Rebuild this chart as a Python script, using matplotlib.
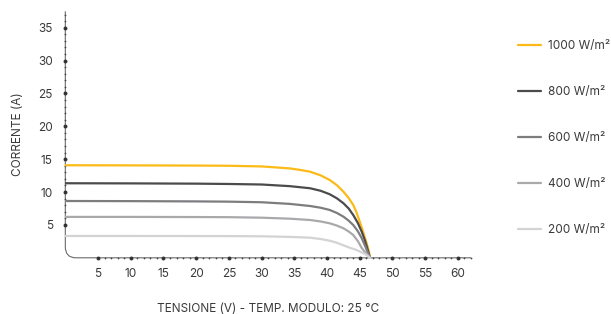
import matplotlib.pyplot as plt
import numpy as np
from matplotlib.path import Path
from matplotlib.patches import PathPatch

plt.rcParams['font.family'] = ['Inter', 'DejaVu Sans']

# tensione (V) / corrente (A)
v_1000 = [0, 10, 20, 25, 30, 34.3, 36, 37.4, 39, 40.4, 41.5, 42.5, 43.3, 44.0, 44.5, 45.0, 45.4, 45.8, 46.2, 46.45, 46.55]
i_1000 = [14.08, 14.06, 14.03, 14.0, 13.9, 13.6, 13.35, 13.1, 12.55, 11.84, 11.05, 10.06, 9.1, 8.04, 6.9, 5.49, 4.3, 3.01, 1.7, 0.68, 0]

v_800 = [0, 10, 20, 25, 30, 34.3, 37.4, 39, 40.4, 41.5, 42.5, 43.3, 44.0, 44.7, 45.3, 45.8, 46.3, 46.55]
i_800 = [11.34, 11.32, 11.28, 11.23, 11.15, 10.9, 10.58, 10.2, 9.67, 9.05, 8.3, 7.5, 6.51, 5.3, 3.97, 2.6, 0.93, 0]

v_600 = [0, 10, 20, 25, 30, 34.3, 37.4, 39, 40.4, 41.5, 42.5, 43.3, 44.0, 44.7, 45.3, 45.9, 46.55]
i_600 = [8.64, 8.62, 8.58, 8.54, 8.45, 8.2, 7.88, 7.62, 7.28, 6.82, 6.26, 5.65, 4.99, 4.05, 2.97, 1.6, 0]

v_400 = [0, 10, 20, 25, 30, 34.3, 37.4, 39, 40.4, 41.5, 42.5, 43.3, 44.0, 44.7, 45.3, 45.9, 46.55]
i_400 = [6.22, 6.22, 6.2, 6.18, 6.1, 5.95, 5.75, 5.53, 5.25, 4.9, 4.49, 4.0, 3.47, 2.55, 1.49, 0.75, 0]

v_200 = [0, 10, 20, 25, 30, 34.3, 37.4, 39, 40.4, 41.5, 42.5, 43.5, 44.4, 45.2, 45.8, 46.2, 46.55]
i_200 = [3.32, 3.32, 3.31, 3.3, 3.27, 3.18, 3.06, 2.86, 2.6, 2.28, 1.9, 1.52, 1.23, 0.86, 0.58, 0.3, 0]

labels = ['1000 W/m²', '800 W/m²', '600 W/m²', '400 W/m²', '200 W/m²']
colors = ['#FBBA16', '#4b4b4d', '#7d7d80', '#a9a9ac', '#d3d3d5']

x_ticks = list(range(5, 65, 5))
y_ticks = list(range(5, 40, 5))

fs = 8.5
txt_col = '#3a3a3a'

fig = plt.figure(figsize=(6.11, 3.14), dpi=100)
ax = fig.add_axes([0.1069, 0.179, 0.664, 0.785])

curves = [(v_1000, i_1000), (v_800, i_800), (v_600, i_600), (v_400, i_400), (v_200, i_200)]
for (v, i), lab, col in zip(curves, labels, colors):
    ax.plot(v, i, color=col, lw=1.6, label=lab, solid_capstyle='round', zorder=3)

ax.set_xlim(0, 62)
ax.set_ylim(0, 37.5)
for s in ax.spines.values():
    s.set_visible(False)

# axis lines with rounded corner at the origin
axis_col = '#6a6a6a'
path = Path([(0, 37.5), (0, 1.7), (0, 0), (1.6, 0), (62, 0)],
            [Path.MOVETO, Path.LINETO, Path.CURVE3, Path.CURVE3, Path.LINETO])
ax.add_patch(PathPatch(path, fill=False, edgecolor=axis_col, lw=0.8, clip_on=False, zorder=2))

# dotted ticks
xm = np.arange(5, 63)
ym = np.arange(5, 38)
ax.scatter(xm, np.zeros_like(xm), s=1.6, color='#444444', clip_on=False, zorder=2, linewidths=0)
ax.scatter(np.zeros_like(ym), ym, s=1.6, color='#444444', clip_on=False, zorder=2, linewidths=0)
ax.scatter(x_ticks, np.zeros(len(x_ticks)), s=8, color='#333333', clip_on=False, zorder=2, linewidths=0)
ax.scatter(np.zeros(len(y_ticks)), y_ticks, s=8, color='#333333', clip_on=False, zorder=2, linewidths=0)

ax.set_xticks(x_ticks)
ax.set_yticks(y_ticks)
ax.tick_params(length=0, labelsize=fs, labelcolor=txt_col)
ax.tick_params(axis='x', pad=7)
ax.tick_params(axis='y', pad=9)

ax.set_xlabel('TENSIONE (V) - TEMP. MODULO: 25 °C', fontsize=fs, color=txt_col, labelpad=17)
ax.set_ylabel('CORRENTE (A)', fontsize=fs, color=txt_col, labelpad=10)

ax.legend(loc='upper left', bbox_to_anchor=(1.09, 0.925), frameon=False, fontsize=fs,
          handlelength=1.95, handletextpad=0.6, labelspacing=2.87, labelcolor=txt_col)

plt.savefig('out.png', dpi=100)
